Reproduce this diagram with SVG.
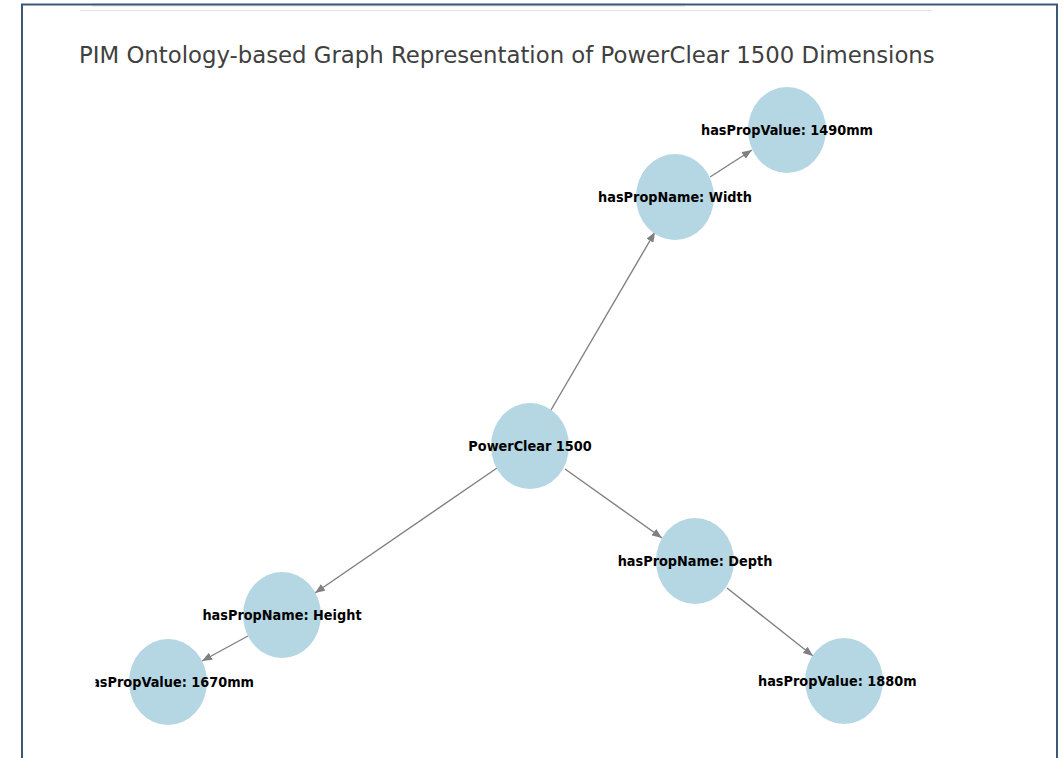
<svg xmlns="http://www.w3.org/2000/svg" width="1063" height="758" viewBox="0 0 1063 758">
<style>
.node{fill:#b5d6e3}
.lbl{font-family:"DejaVu Sans",sans-serif;font-weight:bold;font-size:12.9px;fill:#000;text-anchor:middle;dominant-baseline:central}
.edge{stroke:#808080;stroke-width:1.4;fill:none;marker-end:url(#arr)}
.title{font-family:"DejaVu Sans",sans-serif;font-size:22.8px;fill:#404040}
</style>
<defs>
<marker id="arr" viewBox="0 0 10 8" refX="10" refY="4" markerWidth="10" markerHeight="8" markerUnits="userSpaceOnUse" orient="auto">
<path d="M0,0 L10,4 L0,8 Z" fill="#808080"/>
</marker>
<clipPath id="ax"><rect x="95.5" y="70" width="821" height="688"/></clipPath>
</defs>
<rect width="1063" height="758" fill="#fff"/>
<rect x="92" y="3" width="593" height="4" fill="#f0f0f0"/>
<line x1="80" y1="10.5" x2="932" y2="10.5" stroke="#e4e4e4" stroke-width="1"/>
<path d="M22,762 V4.5 H1057 V762" fill="none" stroke="#3b5878" stroke-width="2"/>
<text class="title" x="79" y="63">PIM Ontology-based Graph Representation of PowerClear 1500 Dimensions</text>
<g id="edges">
<line class="edge" x1="551" y1="410" x2="655" y2="232"/>
<line class="edge" x1="710" y1="177" x2="752" y2="150"/>
<line class="edge" x1="565" y1="469" x2="662" y2="538"/>
<line class="edge" x1="727" y1="588" x2="813" y2="656"/>
<line class="edge" x1="497" y1="468" x2="315" y2="593"/>
<line class="edge" x1="248" y1="636" x2="202" y2="661"/>
</g>
<g clip-path="url(#ax)">
<g id="n-pc"><ellipse class="node" cx="530" cy="446" rx="39" ry="43"/><text class="lbl" transform="translate(530 446) scale(1 1.08)">PowerClear 1500</text></g>
<g id="n-width"><ellipse class="node" cx="675" cy="197" rx="39" ry="43"/><text class="lbl" transform="translate(675 197) scale(1 1.08)">hasPropName: Width</text></g>
<g id="n-1490"><ellipse class="node" cx="787" cy="130" rx="39" ry="43"/><text class="lbl" transform="translate(787 130) scale(1 1.08)">hasPropValue: 1490mm</text></g>
<g id="n-depth"><ellipse class="node" cx="695" cy="561" rx="39" ry="43"/><text class="lbl" transform="translate(695 561) scale(1 1.08)">hasPropName: Depth</text></g>
<g id="n-1880"><ellipse class="node" cx="844" cy="681" rx="39" ry="43"/><text class="lbl" transform="translate(844 681) scale(1 1.08)">hasPropValue: 1880mm</text></g>
<g id="n-height"><ellipse class="node" cx="282" cy="615" rx="39" ry="43"/><text class="lbl" transform="translate(282 615) scale(1 1.08)">hasPropName: Height</text></g>
<g id="n-1670"><ellipse class="node" cx="168" cy="682" rx="39" ry="43"/><text class="lbl" transform="translate(168 682) scale(1 1.08)">hasPropValue: 1670mm</text></g>
</g>
</svg>
